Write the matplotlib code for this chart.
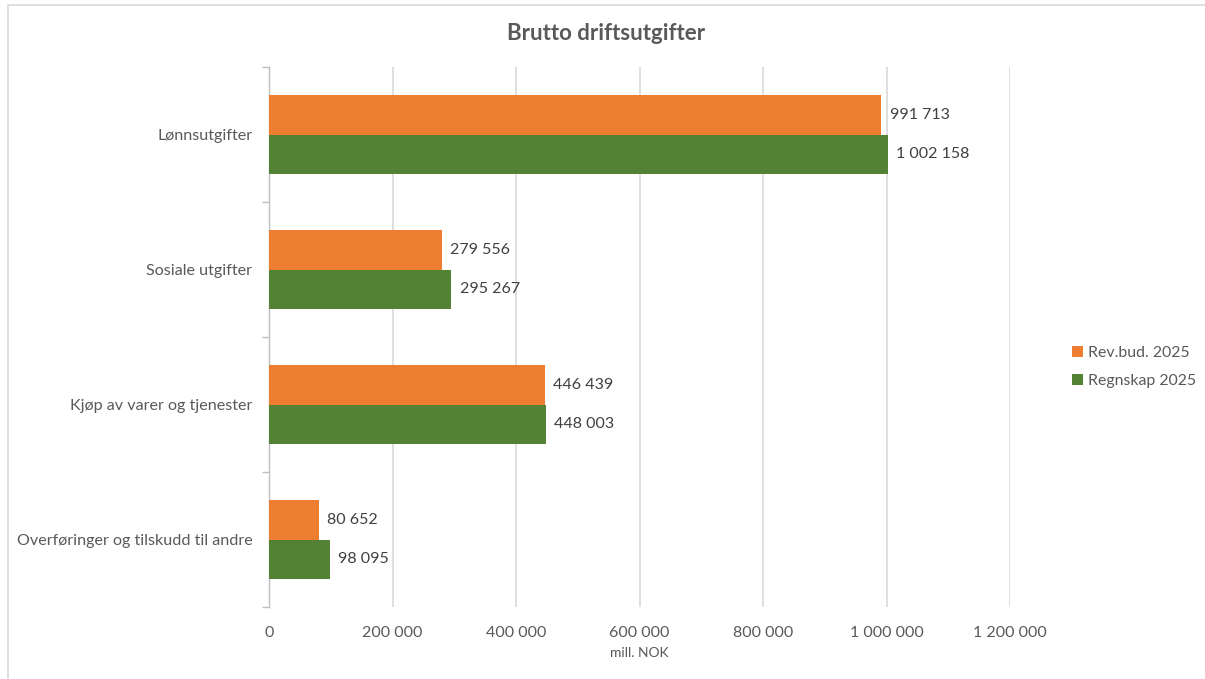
import matplotlib
matplotlib.use("Agg")
import matplotlib.pyplot as plt
from matplotlib.patches import Rectangle
from matplotlib.ticker import FixedLocator, FuncFormatter
import numpy as np

plt.rcParams['font.family'] = ['Lato', 'DejaVu Sans']

categories = ["Lønnsutgifter", "Sosiale utgifter", "Kjøp av varer og tjenester",
              "Overføringer og tilskudd til andre"]
rev_bud = [991713, 279556, 446439, 80652]
regnskap = [1002158, 295267, 448003, 98095]
series_names = ["Rev.bud. 2025", "Regnskap 2025"]
xticks = [0, 200000, 400000, 600000, 800000, 1000000, 1200000]

ORANGE = "#ED7D31"
GREEN = "#548235"
TEXT = "#595959"
GRID = "#D9D9D9"


def nok(v, _=None):
    return f"{int(v):,}".replace(",", " ")


fig = plt.figure(figsize=(12.05, 6.79), dpi=100)
ax = fig.add_axes([269 / 1205, 1 - 607 / 679, (1010 - 269) / 1205, (607 - 67) / 679])

# outer chart frame
fig.patches.append(Rectangle((8 / 1205, -0.1), 1.2, 1 - 5 / 679 + 0.1,
                             transform=fig.transFigure, fill=False,
                             edgecolor="#D9D9D9", linewidth=1.2))

y = np.arange(len(categories))
h = 0.29
b1 = ax.barh(y - h / 2, rev_bud, height=h, color=ORANGE, label=series_names[0], zorder=3)
b2 = ax.barh(y + h / 2, regnskap, height=h, color=GREEN, label=series_names[1], zorder=3)

for bars, vals in ((b1, rev_bud), (b2, regnskap)):
    for bar, v in zip(bars, vals):
        ax.annotate(nok(v), (v, bar.get_y() + bar.get_height() / 2),
                    xytext=(6, 0), textcoords="offset points",
                    ha="left", va="center", fontsize=11.5, color="#404040")

ax.set_xlim(0, 1200000)
ax.set_ylim(len(categories) - 0.5, -0.5)
ax.set_xticks(xticks)
ax.xaxis.set_major_formatter(FuncFormatter(nok))
ax.set_yticks(y)
ax.set_yticklabels(categories)
ax.yaxis.set_minor_locator(FixedLocator(np.arange(-0.5, len(categories), 1.0)))

ax.tick_params(axis="x", length=0, labelsize=11.5, labelcolor=TEXT, pad=14)
ax.tick_params(axis="y", which="major", length=0, labelsize=11.6, labelcolor=TEXT, pad=12)
ax.tick_params(axis="y", which="minor", length=5, color="#BFBFBF", width=1)

ax.grid(axis="x", color=GRID, linewidth=1.2, zorder=0)
for side in ("top", "right", "bottom"):
    ax.spines[side].set_visible(False)
ax.spines["left"].set_color("#BFBFBF")
ax.spines["left"].set_linewidth(1.0)

ax.set_xlabel("mill. NOK", fontsize=10, color=TEXT, labelpad=5)

fig.text(0.503, 1 - 33 / 679, "Brutto driftsutgifter", ha="center", va="center",
         fontsize=16, fontweight="bold", color=TEXT)

fig.legend(handles=[b1, b2], labels=series_names, loc="center left",
           bbox_to_anchor=(1058 / 1205, 1 - 367 / 679), frameon=False,
           fontsize=11.4, labelcolor=TEXT, handlelength=0.7, handleheight=0.7,
           handletextpad=0.3, labelspacing=0.9)

fig.savefig("out.png", dpi=100)
